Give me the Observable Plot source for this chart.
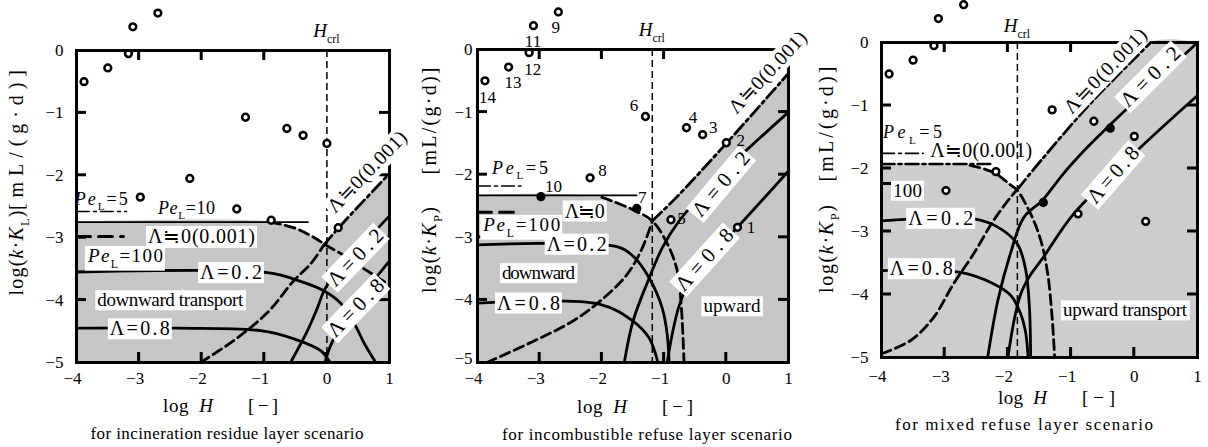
<!DOCTYPE html>
<html><head><meta charset="utf-8">
<script src="https://cdn.jsdelivr.net/npm/d3@7"></script>
<script src="https://cdn.jsdelivr.net/npm/@observablehq/plot@0.6"></script>
<style>
body{margin:0;background:#fff;}
#wrap{position:relative;width:1208px;height:447px;overflow:hidden;background:#fff;}
.panel{position:absolute;top:0;height:447px;}
.panel svg{overflow:visible;background:none;}
</style></head><body><div id="wrap"></div>
<script>
// ---------------- data (shared measured points) ----------------
const pointId = [1,2,3,4,5,6,7,8,9,10,11,12,13,14];
const pointX  = [0.18, 0.0, -0.38, -0.64, -0.89, -1.3, -1.44, -2.19, -2.7, -2.98, -3.1, -3.17, -3.5, -3.88];
const pointY  = [-2.84, -1.49, -1.36, -1.25, -2.72, -1.07, -2.54, -2.05, 0.6, -2.35, 0.38, -0.05, -0.28, -0.5];
const xTicks = [-4,-3,-2,-1,0,1];
const yTicks = [0,-1,-2,-3,-4,-5];
const innerXTicks = [-3,-2,-1,0];
const topXTicks = [-3,-2,-1];
const innerYTicks = [-1,-2,-3,-4];

// ---------------- panel A: incineration residue layer ----------------
const hcrlA = 0;
const shadeA = [[-4,-2.75],[-0.9,-2.75],[-0.5,-2.86],[-0.2,-3.0],[-0.05,-3.12],[0.17,-2.87],[0.6,-2.42],[1,-1.97]];
const pe5A = [[-4,-2.58],[-3.2,-2.58]];
const pe10A = [[-4,-2.75],[-0.3,-2.75]];
const legDashA = [[-4,-2.98],[-3.25,-2.98]];
const down0A = [[-0.9,-2.75],[-0.5,-2.85],[-0.2,-3.0],[0,-3.13],[0.3,-3.3],[0.55,-3.47],[0.8,-3.63],[1,-3.76]];
const up0A = [[-2.02,-5],[-1.49,-4.65],[-0.95,-4.2],[-0.53,-3.69],[-0.26,-3.42],[-0.05,-3.12]];
const diag0A = [[-0.05,-3.12],[0.17,-2.86],[1,-1.97]];
const down02A = [[-4,-3.55],[-0.95,-3.56],[-0.42,-3.7],[-0.05,-3.85],[0.22,-4.05],[0.45,-4.4],[0.6,-4.7],[0.78,-5]];
const up02A = [[-0.58,-5],[-0.31,-4.49],[-0.15,-4.12],[-0.02,-3.8],[0.3,-3.42],[0.6,-3.08],[1,-2.65]];
const down08A = [[-4,-4.45],[-2.39,-4.45],[-1.06,-4.49],[-0.53,-4.62],[-0.1,-4.81],[0.05,-5]];
const up08A = [[-0.03,-5],[0.05,-4.75],[0.2,-4.45],[0.45,-4.1],[0.7,-3.75],[1,-3.37]];
const filledA = [];

// ---------------- panel B: incombustible refuse layer ----------------
const hcrlB = -1.19;
const shadeB = [[-4,-2.33],[-2.0,-2.36],[-1.5,-2.56],[-1.19,-2.74],[-0.81,-2.37],[0,-1.5],[1,-0.38]];
const pe5B = [[-4,-2.18],[-3.3,-2.18]];
const pe10B = [[-4,-2.33],[-1.44,-2.33]];
const legDashB = [[-4,-2.6],[-3.3,-2.6]];
const down0B = [[-2.0,-2.36],[-1.5,-2.56],[-1.19,-2.74],[-0.97,-3.06],[-0.8,-3.49],[-0.73,-4.02],[-0.68,-5]];
const up0B = [[-3.85,-5],[-3.1,-4.66],[-2.47,-4.34],[-2.03,-4.02],[-1.6,-3.6],[-1.35,-3.17],[-1.19,-2.74]];
const diag0B = [[-1.19,-2.74],[-0.81,-2.37],[0,-1.5],[1,-0.38]];
const down02B = [[-4,-3.12],[-1.76,-3.15],[-1.5,-3.3],[-1.24,-3.65],[-1.03,-4.13],[-0.95,-4.55],[-0.92,-5]];
const up02B = [[-1.64,-5],[-1.5,-4.34],[-1.28,-3.75],[-1.03,-3.17],[-0.76,-2.74],[-0.44,-2.37],[0.09,-1.83],[1,-1.0]];
const down08B = [[-4,-4.05],[-2.03,-4.07],[-1.5,-4.34],[-1.24,-4.61],[-1.1,-5]];
const up08B = [[-0.95,-5],[-0.87,-4.55],[-0.76,-4.1],[-0.6,-3.72],[-0.3,-3.34],[0.18,-2.84],[1,-1.94]];
const filledB = [10, 7];

// ---------------- panel C: mixed refuse layer ----------------
const hcrlC = -1.85;
const shadeC = [[-4,-1.93],[-2.6,-1.95],[-2.23,-2.06],[-1.96,-2.26],[-1.85,-2.33],[-1.44,-1.83],[-0.65,-0.92],[0.26,0],[1,0]];
const pe5C = [[-4,-1.76],[-3.34,-1.76]];
const pe10C = [[-4,-1.93],[-2.28,-1.93]];
const legDashC = [[-4,-2.24],[-3.35,-2.24]];
const down0C = [[-2.6,-1.95],[-2.23,-2.06],[-1.96,-2.26],[-1.85,-2.35],[-1.64,-2.72],[-1.48,-3.14],[-1.37,-3.67],[-1.3,-4.37],[-1.26,-5]];
const up0C = [[-4,-4.94],[-3.54,-4.73],[-3.18,-4.37],[-2.86,-3.83],[-2.54,-3.35],[-2.23,-2.83],[-1.96,-2.46],[-1.85,-2.33]];
const diag0C = [[-1.85,-2.33],[-1.44,-1.83],[-0.65,-0.92],[0.26,0]];
const down02C = [[-4,-2.83],[-2.54,-2.8],[-2.16,-2.93],[-1.85,-3.2],[-1.72,-3.6],[-1.66,-4.2],[-1.64,-5]];
const up02C = [[-2.32,-5],[-2.16,-4.1],[-1.96,-3.35],[-1.75,-2.78],[-1.45,-2.5],[-1.12,-2.08],[-0.74,-1.66],[-0.46,-1.38],[1,0]];
const down08C = [[-4,-3.62],[-2.75,-3.65],[-2.23,-3.83],[-1.95,-4.02],[-1.8,-4.3],[-1.72,-4.6],[-1.68,-5]];
const up08C = [[-2.0,-5],[-1.9,-4.4],[-1.8,-4.0],[-1.65,-3.7],[-1.44,-3.41],[-0.96,-2.72],[0.05,-1.71],[1,-0.84]];
const filledC = [3, 7];

// ---------------- rendering ----------------
const SERIF = "'Liberation Serif','Times New Roman',serif";
const fmt = d => d < 0 ? "\u2212" + Math.abs(d) : String(d);
const PeL = v => [{t:"Pe", i:1},{t:"L", sub:1},{t:"=" + v}];

function addText(svg, o) {
  const size = o.size || 19;
  const g = d3.select(svg).append("g");
  const t = g.append("text").attr("x", o.x).attr("y", o.y)
    .attr("font-family", SERIF).attr("font-size", size)
    .attr("text-anchor", o.anchor || "start").attr("fill", "black");
  if (o.mid) t.attr("dy", "0.35em");
  if (o.rot) t.attr("transform", `rotate(${o.rot},${o.x},${o.y})`);
  const parts = typeof o.parts === "string" ? [{t: o.parts}] : o.parts;
  let shift = 0;
  for (const p of parts) {
    const ts = t.append("tspan").text(p.t);
    if (p.i) ts.attr("font-style", "italic");
    const want = p.sub ? size * 0.3 : 0;
    if (want !== shift) { ts.attr("dy", want - shift); shift = want; }
    if (p.sub) ts.attr("font-size", size * 0.62);
  }
  if (o.len) t.attr("textLength", o.len).attr("lengthAdjust", "spacing");
  if (o.box) {
    const b = t.node().getBBox();
    const r = g.insert("rect", "text").attr("x", b.x - 2).attr("y", b.y + 1)
      .attr("width", b.width + 4).attr("height", b.height - 1).attr("fill", "white");
    if (o.rot) r.attr("transform", `rotate(${o.rot},${o.x},${o.y})`);
  }
}

function renderPanel(c) {
  const div = document.createElement("div");
  div.className = "panel";
  div.style.left = c.left + "px";
  div.style.width = c.width + "px";
  document.getElementById("wrap").appendChild(div);
  const L = (arr, o) => Plot.line(arr, {x: d => d[0], y: d => d[1], stroke: "black", strokeWidth: 2.8, curve: "catmull-rom", ...o});
  const DASH = "10,5", DOTDASH = "13,4,3,4";
  const pts = pointId.map((id, i) => ({id, x: pointX[i], y: pointY[i]}));
  const svg = Plot.plot({
    width: c.width, height: 447,
    marginLeft: c.ml, marginRight: c.mr, marginTop: c.mt, marginBottom: c.mb,
    x: {domain: [-4, 1]}, y: {domain: [-5, 0]},
    style: {fontFamily: SERIF, fontSize: "17px", background: "none", overflow: "visible", color: "black"},
    marks: [
      Plot.areaY(c.shade, {x: d => d[0], y1: -5, y2: d => d[1], fill: c.shadeColor, curve: "catmull-rom"}),
      Plot.ruleX([c.hcrl], {y1: 0, y2: -5, stroke: "black", strokeWidth: 1.5, strokeDasharray: "7,4"}),
      L(c.pe5, {strokeWidth: 1.6, strokeDasharray: DOTDASH}),
      L(c.pe10, {strokeWidth: c.pe10w, strokeDasharray: c.pe10dash}),
      L(c.legDash, {strokeWidth: 3, strokeDasharray: "14,8"}),
      L(c.down0, {strokeDasharray: DASH}),
      L(c.up0, {strokeDasharray: DASH}),
      L(c.diag0, {strokeDasharray: DOTDASH}),
      L(c.down02, {}), L(c.up02, {}), L(c.down08, {}), L(c.up08, {}),
      Plot.dot(pts, {x: "x", y: "y", r: 3.4, stroke: "black", strokeWidth: 2.5,
        fill: d => c.filled.includes(d.id) ? "black" : "white"}),
      Plot.frame({stroke: "black", strokeWidth: 3}),
      Plot.axisX({ticks: xTicks.filter(v => v < 0), tickSize: 0, tickPadding: c.xpad, tickFormat: fmt, dx: -4, label: null}),
      Plot.axisX({ticks: xTicks.filter(v => v >= 0), tickSize: 0, tickPadding: c.xpad, tickFormat: fmt, label: null}),
      Plot.axisY({ticks: yTicks.filter(v => v > -5), tickSize: 0, tickPadding: c.ypad, tickFormat: fmt, label: null}),
      Plot.axisY({ticks: [-5], tickSize: 0, tickPadding: c.ypad, tickFormat: fmt, dy: c.y5dy, label: null})
    ]
  });
  div.appendChild(svg);
  const sx = svg.scale("x"), sy = svg.scale("y");
  // inward tick marks, placed through the plot's own scales
  const tg = d3.select(svg).append("g");
  const X0 = sx.apply(-4), X1 = sx.apply(1), Y0 = sy.apply(0), Y1 = sy.apply(-5), TL = 10;
  const seg = (x1, y1, x2, y2) => tg.append("path").attr("d", `M${x1},${y1}L${x2},${y2}`)
    .attr("stroke", "black").attr("stroke-width", 3).attr("fill", "none");
  for (const v of innerXTicks) { const px = sx.apply(v); seg(px, Y1, px, Y1 - TL); }
  for (const v of topXTicks) { const px = sx.apply(v); seg(px, Y0, px, Y0 + TL); }
  for (const v of innerYTicks) { const py = sy.apply(v); seg(X0, py, X0 + TL, py); seg(X1, py, X1 - TL, py); }
  for (const lb of c.labels) {
    addText(svg, {...lb, x: sx.apply(lb.x), y: sy.apply(lb.y), mid: true});
  }
  if (c.pointLabels) {
    for (const [id, dx, dy] of c.pointLabels) {
      const i = pointId.indexOf(id);
      addText(svg, {parts: String(id), x: sx.apply(pointX[i]) + dx, y: sy.apply(pointY[i]) + dy, anchor: "middle", mid: true, size: 17});
    }
  }
  addText(svg, {parts: [{t:"H", i:1},{t:"crl", sub:1}], x: sx.apply(c.hcrl), y: c.mt - c.hcrlUp, anchor: "middle", size: 19});
  addText(svg, {parts: "[mL/(g\u00b7d)]", x: c.yt.bx, y: c.yt.unitY, anchor: "middle", rot: -90, len: c.yt.unitLen, size: 20});
  addText(svg, {parts: [{t:"log("},{t:"k", i:1},{t:"\u00b7"},{t:"K", i:1},{t:c.K, sub:1},{t:")"}], x: c.yt.bx, y: c.yt.logY, anchor: "middle", rot: -90, len: c.yt.logLen, size: 20});
  addText(svg, {parts: [{t:"log\u2002"},{t:"H", i:1}], x: c.xt.x1, y: c.xt.y, len: c.xt.len1, size: 19});
  addText(svg, {parts: "[\u2212]", x: c.xt.x2, y: c.xt.y, len: c.xt.len2, size: 19});
  addText(svg, {parts: c.caption, x: c.cap.x, y: c.cap.y, anchor: "middle", len: c.cap.len, size: 17});
}

renderPanel({
  left: 0, width: 400, ml: 76, mr: 11, mt: 50, mb: 85, xpad: 9, ypad: 13, y5dy: 0,
  shadeColor: "#c6c6c6", hcrl: hcrlA, shade: shadeA, pe5: pe5A, pe10: pe10A, pe10w: 1.6, pe10dash: null, legDash: legDashA,
  down0: down0A, up0: up0A, diag0: diag0A, down02: down02A, up02: up02A, down08: down08A, up08: up08A, filled: filledA,
  K: "L", hcrlUp: 13,
  labels: [
    {parts: PeL(5), x: -4.02, y: -2.38, len: 53, size: 18},
    {parts: PeL(10), x: -2.69, y: -2.52, len: 57, size: 18},
    {parts: "\u039b\u22520(0.001)", x: -2.85, y: -2.98, len: 107, box: true, size: 20},
    {parts: PeL(100), x: -3.81, y: -3.29, len: 75, box: true, size: 19},
    {parts: "\u039b=0.2", x: -2.02, y: -3.56, len: 62, box: true, size: 20},
    {parts: "downward transport", x: -3.66, y: -4.0, len: 146, box: true, size: 19},
    {parts: "\u039b=0.8", x: -3.46, y: -4.46, len: 60, box: true, size: 20},
    {parts: "\u039b\u22520(0.001)", x: 0.06, y: -2.55, len: 105, rot: -46, box: true, size: 20},
    {parts: "\u039b=0.2", x: 0.06, y: -3.73, len: 71, rot: -46, box: true, size: 21},
    {parts: "\u039b=0.8", x: 0.06, y: -4.54, len: 72, rot: -46, box: true, size: 21}
  ],
  yt: {bx: 23, unitY: 140, unitLen: 140, logY: 253, logLen: 85},
  xt: {x1: 163, x2: 248, y: 412, len1: 50, len2: 30},
  caption: "for incineration residue layer scenario", cap: {x: 227, y: 439, len: 273}
});

renderPanel({
  left: 400, width: 410, ml: 77, mr: 22, mt: 49, mb: 85, xpad: 9, ypad: 5, y5dy: -4,
  shadeColor: "#c6c6c6", hcrl: hcrlB, shade: shadeB, pe5: pe5B, pe10: pe10B, pe10w: 1.6, pe10dash: null, legDash: legDashB,
  down0: down0B, up0: up0B, diag0: diag0B, down02: down02B, up02: up02B, down08: down08B, up08: up08B, filled: filledB,
  K: "P", hcrlUp: 13,
  labels: [
    {parts: PeL(5), x: -3.76, y: -1.89, len: 56, size: 18},
    {parts: "\u039b\u22520", x: -2.59, y: -2.58, len: 40, box: true, size: 20},
    {parts: PeL(100), x: -3.9, y: -2.8, len: 77, box: true, size: 19},
    {parts: "\u039b=0.2", x: -2.88, y: -3.11, len: 60, box: true, size: 20},
    {parts: "downward", x: -3.6, y: -3.57, len: 73, box: true, size: 19},
    {parts: "\u039b=0.8", x: -3.68, y: -4.05, len: 63, box: true, size: 20},
    {parts: "upward", x: -0.36, y: -4.1, len: 57, box: true, size: 19},
    {parts: "\u039b\u22520(0.001)", x: 0.09, y: -0.98, len: 105, rot: -47, box: true, size: 20},
    {parts: "\u039b=0.2", x: -0.49, y: -2.63, len: 78, rot: -50, box: true, size: 21},
    {parts: "\u039b=0.8", x: -0.76, y: -3.81, len: 76, rot: -48, box: true, size: 21}
  ],
  pointLabels: [[1,14,0],[2,15,-2],[3,11,-7],[4,7,-10],[5,11,-1],[6,-11,-11],[7,6,-11],[8,13,-7],[9,-2,16],[10,13,-10],[11,0,16],[12,4,17],[13,5,16],[14,3,17]],
  yt: {bx: 36, unitY: 121, unitLen: 107, logY: 250, logLen: 86},
  xt: {x1: 177, x2: 262, y: 413, len1: 50, len2: 31},
  caption: "for incombustible refuse layer scenario", cap: {x: 247, y: 440, len: 290}
});

renderPanel({
  left: 810, width: 398, ml: 71, mr: 11, mt: 42, mb: 90, xpad: 12, ypad: 13, y5dy: 0,
  shadeColor: "#cdcdcd", hcrl: hcrlC, shade: shadeC, pe5: pe5C, pe10: pe10C, pe10w: 2.5, pe10dash: "13,4,3,4", legDash: legDashC,
  down0: down0C, up0: up0C, diag0: diag0C, down02: down02C, up02: up02C, down08: down08C, up08: up08C, filled: filledC,
  K: "P", hcrlUp: 10,
  labels: [
    {parts: PeL(5), x: -3.97, y: -1.43, len: 59, size: 18},
    {parts: "\u039b\u22520(0.001)", x: -3.22, y: -1.71, len: 102, size: 20},
    {parts: "100", x: -3.81, y: -2.35, len: 29, box: true, size: 19},
    {parts: "\u039b=0.2", x: -3.57, y: -2.79, len: 65, box: true, size: 20},
    {parts: "\u039b=0.8", x: -3.86, y: -3.59, len: 63, box: true, size: 20},
    {parts: "upward transport", x: -1.12, y: -4.25, len: 124, box: true, size: 19},
    {parts: "\u039b\u22520(0.001)", x: -1.06, y: -1.08, len: 110, rot: -46, box: true, size: 20},
    {parts: "\u039b=0.2", x: -0.17, y: -0.97, len: 76, rot: -45, box: true, size: 21},
    {parts: "\u039b=0.8", x: -0.69, y: -2.51, len: 68, rot: -49, box: true, size: 21}
  ],
  yt: {bx: 23, unitY: 124, unitLen: 115, logY: 249, logLen: 88},
  xt: {x1: 188, x2: 272, y: 404, len1: 49, len2: 33},
  caption: "for mixed refuse layer scenario", cap: {x: 214, y: 430, len: 258}
});
</script>
</body></html>
